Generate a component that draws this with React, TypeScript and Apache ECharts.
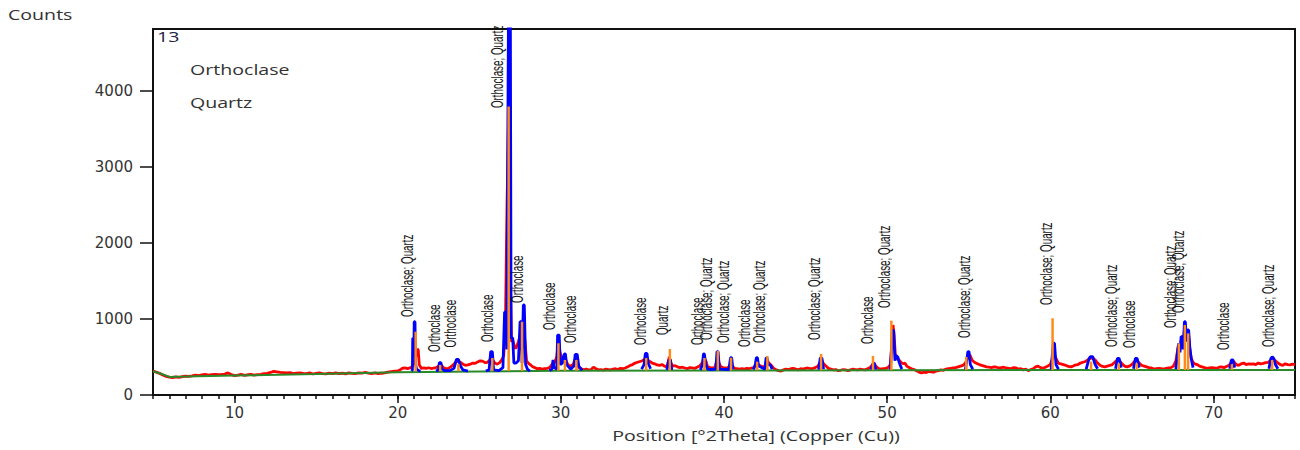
import React, { useEffect, useRef } from "react";
import * as echarts from "echarts";

// ---- axis ticks ----
const xMajorTicks = [10, 20, 30, 40, 50, 60, 70];
const yTicks = [0, 1000, 2000, 3000, 4000];
const X_MIN = 5;
const X_MAX = 75;
const Y_MAX = 4810;

// ---- background (green) ----
const background: number[][] = [
  [5, 312], [5.5, 280], [6, 238], [7, 242], [10, 255], [15, 275], [20, 300],
  [25, 310], [30, 318], [40, 322], [50, 326], [60, 328], [75, 330],
];

// ---- observed scan (red) ----
const observed: number[][] = [
  [5.0, 316], [5.2, 300], [5.4, 285], [5.6, 262], [5.8, 245], [6.0, 236], [6.2, 230], [6.4, 238], [6.6, 233], [6.8, 242],
  [7.0, 248], [7.2, 245], [7.4, 252], [7.6, 262], [7.8, 256], [8.0, 265], [8.2, 270], [8.4, 262], [8.6, 268], [8.8, 272],
  [9.0, 266], [9.2, 270], [9.4, 275], [9.6, 290], [9.8, 268], [10.0, 255], [10.2, 262], [10.4, 270], [10.6, 258], [10.8, 266],
  [11.0, 270], [11.2, 262], [11.4, 268], [11.6, 272], [11.8, 280], [12.0, 285], [12.2, 296], [12.4, 310], [12.6, 305], [12.8, 298],
  [13.0, 295], [13.2, 290], [13.4, 295], [13.6, 282], [13.8, 288], [14.0, 292], [14.2, 285], [14.4, 280], [14.6, 290], [14.8, 276],
  [15.0, 285], [15.2, 292], [15.4, 282], [15.6, 278], [15.8, 288], [16.0, 280], [16.2, 290], [16.4, 282], [16.6, 286], [16.8, 278],
  [17.0, 290], [17.2, 284], [17.4, 280], [17.6, 292], [17.8, 286], [18.0, 298], [18.2, 288], [18.4, 282], [18.6, 292], [18.8, 280],
  [19.0, 286], [19.2, 290], [19.4, 300], [19.6, 308], [19.8, 312], [20.0, 315], [20.15, 330], [20.3, 352], [20.45, 355], [20.6, 348],
  [20.75, 355], [20.88, 370], [21.0, 420], [21.12, 520], [21.2, 605], [21.26, 590], [21.32, 400], [21.45, 350], [21.6, 355], [21.75, 350],
  [21.9, 358], [22.05, 348], [22.2, 352], [22.35, 360], [22.5, 380], [22.65, 400], [22.8, 360], [22.95, 345], [23.1, 350], [23.25, 370],
  [23.4, 395], [23.55, 430], [23.7, 445], [23.85, 430], [24.0, 405], [24.15, 390], [24.3, 395], [24.45, 405], [24.6, 420], [24.75, 415],
  [24.9, 435], [25.05, 450], [25.2, 445], [25.35, 425], [25.5, 430], [25.65, 460], [25.8, 470], [25.95, 420], [26.1, 405], [26.25, 425],
  [26.4, 470], [26.5, 520], [26.6, 900], [26.7, 2500], [26.8, 3700], [26.9, 1500], [26.98, 700], [27.06, 720], [27.14, 650], [27.22, 610],
  [27.3, 640], [27.4, 700], [27.5, 780], [27.6, 900], [27.7, 1000], [27.8, 700], [27.9, 450], [28.0, 420], [28.12, 400], [28.25, 375],
  [28.4, 360], [28.55, 345], [28.7, 350], [28.85, 340], [29.0, 345], [29.15, 350], [29.3, 360], [29.45, 400], [29.6, 420], [29.75, 500],
  [29.85, 700], [29.95, 560], [30.05, 480], [30.15, 470], [30.3, 460], [30.45, 390], [30.6, 380], [30.75, 400], [30.9, 480], [31.0, 450],
  [31.1, 360], [31.25, 345], [31.4, 330], [31.55, 340], [31.7, 330], [31.85, 335], [32.0, 365], [32.15, 345], [32.3, 330], [32.45, 335],
  [32.6, 325], [32.75, 340], [32.9, 335], [33.05, 330], [33.2, 340], [33.35, 345], [33.5, 335], [33.65, 350], [33.8, 345], [33.95, 355],
  [34.1, 370], [34.25, 390], [34.4, 400], [34.55, 420], [34.7, 430], [34.85, 440], [35.0, 450], [35.15, 470], [35.3, 460], [35.45, 440],
  [35.6, 420], [35.75, 410], [35.9, 395], [36.05, 390], [36.2, 400], [36.35, 380], [36.5, 370], [36.65, 500], [36.75, 420], [36.85, 380],
  [37.0, 385], [37.15, 370], [37.3, 360], [37.45, 365], [37.6, 355], [37.75, 345], [37.9, 360], [38.05, 355], [38.2, 350], [38.35, 365],
  [38.5, 380], [38.65, 420], [38.8, 480], [38.9, 440], [39.0, 370], [39.15, 360], [39.3, 355], [39.45, 365], [39.6, 480], [39.7, 420],
  [39.8, 370], [39.95, 360], [40.1, 355], [40.25, 360], [40.4, 400], [40.5, 380], [40.65, 350], [40.8, 345], [40.95, 340], [41.1, 345],
  [41.25, 340], [41.4, 350], [41.55, 345], [41.7, 355], [41.85, 360], [42.0, 420], [42.1, 400], [42.25, 380], [42.4, 370], [42.55, 380],
  [42.65, 460], [42.75, 420], [42.9, 390], [43.05, 350], [43.2, 330], [43.35, 320], [43.5, 315], [43.65, 330], [43.8, 340], [43.95, 335],
  [44.1, 345], [44.25, 350], [44.4, 340], [44.55, 330], [44.7, 345], [44.85, 340], [45.0, 350], [45.15, 355], [45.3, 345], [45.45, 350],
  [45.6, 360], [45.75, 380], [45.9, 430], [46.0, 460], [46.1, 410], [46.25, 380], [46.4, 350], [46.55, 340], [46.7, 330], [46.85, 335],
  [47.0, 320], [47.15, 325], [47.3, 335], [47.45, 330], [47.6, 320], [47.75, 330], [47.9, 340], [48.05, 335], [48.2, 330], [48.35, 340],
  [48.5, 335], [48.65, 330], [48.8, 345], [48.95, 360], [49.1, 400], [49.2, 420], [49.3, 380], [49.45, 350], [49.6, 340], [49.75, 345],
  [49.9, 350], [50.05, 360], [50.2, 400], [50.3, 700], [50.36, 920], [50.42, 800], [50.5, 540], [50.6, 480], [50.7, 470], [50.8, 440],
  [50.9, 420], [51.0, 410], [51.1, 420], [51.2, 380], [51.35, 360], [51.5, 345], [51.65, 335], [51.8, 320], [51.95, 300], [52.1, 290],
  [52.25, 300], [52.4, 295], [52.55, 310], [52.7, 305], [52.85, 300], [53.0, 315], [53.15, 320], [53.3, 330], [53.45, 325], [53.6, 340],
  [53.75, 345], [53.9, 350], [54.05, 355], [54.2, 360], [54.35, 370], [54.5, 380], [54.65, 390], [54.8, 420], [54.95, 500], [55.08, 525],
  [55.2, 460], [55.35, 430], [55.5, 415], [55.65, 400], [55.8, 390], [55.95, 380], [56.1, 370], [56.25, 365], [56.4, 360], [56.55, 370],
  [56.7, 365], [56.85, 355], [57.0, 360], [57.15, 365], [57.3, 355], [57.45, 350], [57.6, 345], [57.75, 360], [57.9, 355], [58.05, 340],
  [58.2, 345], [58.35, 330], [58.5, 340], [58.65, 320], [58.8, 335], [58.95, 345], [59.1, 370], [59.25, 380], [59.4, 360], [59.55, 350],
  [59.7, 365], [59.85, 380], [60.0, 400], [60.12, 470], [60.25, 525], [60.35, 480], [60.5, 415], [60.65, 410], [60.8, 400], [60.95, 390],
  [61.1, 375], [61.25, 370], [61.4, 380], [61.55, 395], [61.7, 400], [61.85, 420], [62.0, 430], [62.15, 440], [62.3, 460], [62.45, 480],
  [62.6, 490], [62.75, 460], [62.9, 420], [63.05, 390], [63.2, 375], [63.35, 370], [63.5, 380], [63.65, 390], [63.8, 400], [63.95, 430],
  [64.1, 460], [64.25, 450], [64.4, 410], [64.55, 380], [64.7, 370], [64.85, 380], [65.0, 400], [65.15, 440], [65.3, 460], [65.45, 420],
  [65.6, 390], [65.75, 380], [65.9, 370], [66.05, 360], [66.2, 355], [66.35, 340], [66.5, 345], [66.65, 350], [66.8, 345], [66.95, 340],
  [67.1, 350], [67.25, 355], [67.4, 360], [67.55, 380], [67.7, 450], [67.85, 650], [67.95, 600], [68.05, 750], [68.15, 700], [68.25, 900],
  [68.35, 800], [68.45, 850], [68.55, 600], [68.65, 480], [68.75, 430], [68.85, 410], [69.0, 400], [69.15, 380], [69.3, 370], [69.45, 360],
  [69.6, 350], [69.75, 355], [69.9, 360], [70.05, 355], [70.2, 350], [70.35, 365], [70.5, 370], [70.65, 360], [70.8, 375], [70.95, 390],
  [71.1, 430], [71.25, 440], [71.4, 400], [71.55, 390], [71.7, 410], [71.85, 420], [72.0, 400], [72.15, 410], [72.3, 405], [72.45, 410],
  [72.6, 400], [72.75, 420], [72.9, 410], [73.05, 415], [73.2, 425], [73.35, 430], [73.5, 450], [73.65, 470], [73.8, 450], [73.95, 420],
  [74.1, 400], [74.25, 390], [74.4, 410], [74.55, 400], [74.7, 395], [74.85, 405], [75.0, 400],
];

// ---- calculated profile (blue), one list per peak cluster ----
const calculated: number[][][] = [
  [[20.85, 315], [20.9, 330], [20.92, 745], [20.97, 745], [20.99, 500], [21.01, 963], [21.06, 963], [21.09, 420], [21.15, 340], [21.3, 320], [21.4, 315]],
  [[22.35, 315], [22.5, 330], [22.55, 425], [22.65, 425], [22.72, 340], [22.9, 320], [23.2, 320], [23.45, 350], [23.6, 469], [23.72, 469], [23.85, 380], [24.0, 330], [24.3, 315]],
  [[25.4, 315], [25.6, 330], [25.7, 570], [25.8, 570], [25.88, 330], [26.2, 320], [26.45, 360], [26.55, 1090], [26.62, 1090], [26.68, 600], [26.8, 5500], [26.9, 5500], [26.95, 750], [27.05, 750], [27.12, 420], [27.25, 420], [27.4, 450], [27.5, 963], [27.56, 963], [27.62, 420], [27.7, 1183], [27.76, 1183], [27.84, 400], [27.95, 340], [28.1, 315]],
  [[29.3, 322], [29.45, 340], [29.52, 460], [29.58, 360], [29.75, 340], [29.8, 788], [29.9, 788], [29.96, 400], [30.1, 420], [30.15, 503], [30.22, 540], [30.28, 540], [30.35, 400], [30.6, 340], [30.8, 380], [30.88, 535], [31.0, 535], [31.1, 380], [31.3, 325]],
  [[34.95, 340], [35.1, 400], [35.18, 548], [35.28, 548], [35.35, 420], [35.5, 345]],
  [[36.5, 330], [36.62, 460], [36.72, 460], [36.8, 330]],
  [[38.55, 330], [38.68, 400], [38.74, 539], [38.8, 539], [38.88, 400], [39.0, 340], [39.2, 335], [39.5, 340], [39.57, 570], [39.64, 570], [39.72, 340], [40.3, 335], [40.4, 490], [40.47, 490], [40.55, 335]],
  [[41.8, 335], [41.92, 400], [41.98, 490], [42.05, 490], [42.12, 380], [42.5, 340], [42.58, 486], [42.64, 486], [42.7, 400], [42.85, 395], [42.95, 340]],
  [[45.8, 335], [45.9, 486], [46.0, 486], [46.1, 340]],
  [[49.0, 335], [49.15, 416], [49.22, 416], [49.3, 335]],
  [[50.2, 335], [50.32, 850], [50.4, 850], [50.48, 450], [50.55, 520], [50.65, 500], [50.75, 420], [50.9, 340]],
  [[54.8, 335], [54.95, 570], [55.02, 570], [55.1, 400], [55.25, 340]],
  [[60.05, 335], [60.18, 680], [60.26, 680], [60.35, 400], [60.5, 340]],
  [[62.2, 340], [62.38, 480], [62.45, 503], [62.6, 503], [62.75, 400], [62.9, 345]],
  [[64.0, 345], [64.12, 482], [64.22, 482], [64.35, 360]],
  [[65.1, 345], [65.22, 482], [65.32, 482], [65.45, 360]],
  [[67.7, 340], [67.82, 600], [67.88, 680], [67.95, 560], [68.02, 766], [68.08, 766], [68.15, 600], [68.22, 963], [68.28, 963], [68.35, 700], [68.42, 854], [68.48, 854], [68.55, 635], [68.62, 500], [68.75, 360]],
  [[71.0, 345], [71.1, 460], [71.2, 460], [71.3, 360]],
  [[73.4, 345], [73.52, 480], [73.6, 503], [73.7, 480], [73.8, 400], [73.95, 345]],
];

// ---- reference sticks (orange): [position, base, top] ----
const referenceSticks: number[][] = [
  [21.1, 310, 832], [22.6, 312, 395], [23.72, 312, 407], [25.8, 315, 486], [26.8, 315, 3790],
  [27.62, 317, 963], [29.85, 320, 680], [30.25, 320, 460], [30.95, 320, 460], [35.23, 322, 486],
  [36.68, 322, 604], [38.8, 323, 486], [39.62, 323, 578], [40.43, 323, 490], [42.03, 324, 438],
  [42.66, 324, 512], [45.95, 325, 539], [49.13, 326, 512], [50.26, 326, 977], [54.85, 327, 500],
  [60.14, 328, 1008], [62.5, 328, 438], [64.2, 329, 416], [65.3, 329, 416], [67.88, 329, 680],
  [68.25, 329, 920], [68.45, 329, 810], [71.13, 330, 405], [73.6, 330, 460],
];

// ---- peak labels ----
const labelX = [21.1, 22.75, 23.73, 25.99, 26.6, 27.83, 29.79, 31.07, 35.35, 36.7, 38.84, 39.45, 40.49,
  41.77, 42.69, 46.06, 49.3, 50.34, 55.23, 60.25, 64.22, 65.32, 67.89, 68.38, 71.13, 73.88];
const labelBottom = [1025, 565, 625, 696, 3771, 1209, 854, 683, 657, 788, 657, 723, 683,
  631, 683, 723, 670, 1143, 749, 1183, 631, 618, 880, 1077, 591, 631];
const OQ = "Orthoclase; Quartz";
const O = "Orthoclase";
const labelText = [OQ, O, O, O, OQ, O, O, O, O, "Quartz", O, OQ, OQ,
  O, OQ, OQ, O, OQ, OQ, OQ, OQ, O, OQ, OQ, O, OQ];

const legendNames = ["Orthoclase", "Quartz"];

const UI_FONT = '"Open Sans", "Noto Sans", sans-serif';
const NARROW_FONT = '"Liberation Sans Narrow", "Liberation Sans", "DejaVu Sans", sans-serif';
const STRETCH = 1.4;

export default function App() {
  const ref = useRef<HTMLDivElement>(null);

  useEffect(() => {
    if (!ref.current) return;
    const chart = echarts.init(ref.current, undefined, { renderer: "svg" });

    const blueData: any[] = [];
    calculated.forEach((c, i) => {
      if (i > 0) blueData.push(["-", "-"]);
      c.forEach((p) => blueData.push(p));
    });

    const labelData = labelX.map((x, i) => [x, labelBottom[i]]);

    const option: any = {
      animation: false,
      backgroundColor: "#ffffff",
      grid: {
        left: 153, right: 5, top: 29, bottom: 55,
        show: true, borderColor: "#111", borderWidth: 2,
      },
      xAxis: [
        {
          type: "value", min: X_MIN, max: X_MAX, position: "bottom",
          axisLine: { show: true, onZero: false, lineStyle: { color: "#111", width: 2 } },
          axisTick: { show: true, length: 8, customValues: xMajorTicks, lineStyle: { color: "#111", width: 1.5 } },
          axisLabel: {
            show: true, customValues: xMajorTicks, margin: 10,
            fontFamily: "DejaVu Sans", fontSize: 15, color: "#333",
            formatter: (v: number) => String(v),
          },
          splitLine: { show: false },
        },
        {
          type: "value", min: X_MIN, max: X_MAX, interval: 1, position: "bottom",
          axisLine: { show: false },
          axisTick: { show: true, length: 4, lineStyle: { color: "#111", width: 1.5 } },
          axisLabel: { show: false },
          splitLine: { show: false },
        },
      ],
      yAxis: {
        type: "value", min: 0, max: Y_MAX,
        axisLine: { show: true, onZero: false, lineStyle: { color: "#111", width: 2 } },
        axisTick: { show: true, length: 13, customValues: yTicks, lineStyle: { color: "#111", width: 1.5 } },
        axisLabel: {
          show: true, customValues: yTicks, margin: 20,
          fontFamily: "DejaVu Sans", fontSize: 15, color: "#333",
          formatter: (v: number) => String(v),
        },
        splitLine: { show: false },
      },
      series: [
        {
          type: "line", name: "Observed", data: observed, showSymbol: false,
          lineStyle: { color: "#ff0000", width: 2.8 }, clip: true, z: 2,
        },
        {
          type: "line", name: "Background", data: background, showSymbol: false,
          lineStyle: { color: "#2a8a2a", width: 2 }, clip: true, z: 3,
        },
        {
          type: "line", name: "Calculated", data: blueData, showSymbol: false, connectNulls: false,
          lineStyle: { color: "#0000ff", width: 2.8 }, clip: true, z: 4,
        },
        {
          type: "custom", name: "Reference", data: referenceSticks, clip: true, z: 5,
          renderItem: (_p: any, api: any) => {
            const a = api.coord([api.value(0), api.value(1)]);
            const b = api.coord([api.value(0), api.value(2)]);
            return {
              type: "line",
              shape: { x1: a[0], y1: a[1], x2: b[0], y2: b[1] },
              style: { stroke: "#ff8a1c", lineWidth: 2.5 },
            };
          },
        },
        {
          type: "custom", name: "Labels", data: labelData, z: 6,
          renderItem: (params: any, api: any) => {
            const p = api.coord([api.value(0), api.value(1)]);
            return {
              type: "text",
              x: p[0], y: p[1],
              rotation: Math.PI / 2,
              scaleX: 0.82,
              scaleY: 1.45,
              style: {
                text: labelText[params.dataIndex],
                x: 0, y: 0,
                align: "left", verticalAlign: "bottom",
                fill: "#111",
                fontFamily: NARROW_FONT, fontSize: 12,
              },
            };
          },
        },
      ],
      graphic: [
        {
          type: "text", x: 8, y: 15, scaleX: STRETCH,
          style: { text: "Counts", fill: "#333", fontFamily: UI_FONT, fontSize: 14, align: "left", verticalAlign: "middle" },
        },
        {
          type: "text", x: 157, y: 37, scaleX: STRETCH,
          style: { text: "13", fill: "#222244", fontFamily: UI_FONT, fontSize: 14, align: "left", verticalAlign: "middle" },
        },
        {
          type: "text", x: 190, y: 70, scaleX: STRETCH,
          style: { text: legendNames[0], fill: "#333", fontFamily: UI_FONT, fontSize: 14, align: "left", verticalAlign: "middle" },
        },
        {
          type: "text", x: 190, y: 103, scaleX: STRETCH,
          style: { text: legendNames[1], fill: "#333", fontFamily: UI_FONT, fontSize: 14, align: "left", verticalAlign: "middle" },
        },
        {
          type: "text", x: 756, y: 436, scaleX: STRETCH,
          style: { text: "Position [°2Theta] (Copper (Cu))", fill: "#333", fontFamily: UI_FONT, fontSize: 14, align: "center", verticalAlign: "middle" },
        },
      ],
    };

    chart.setOption(option);
    return () => chart.dispose();
  }, []);

  return (
    <div
      ref={ref}
      style={{ position: "fixed", left: 0, top: 0, width: 1300, height: 450, background: "#fff" }}
    />
  );
}
